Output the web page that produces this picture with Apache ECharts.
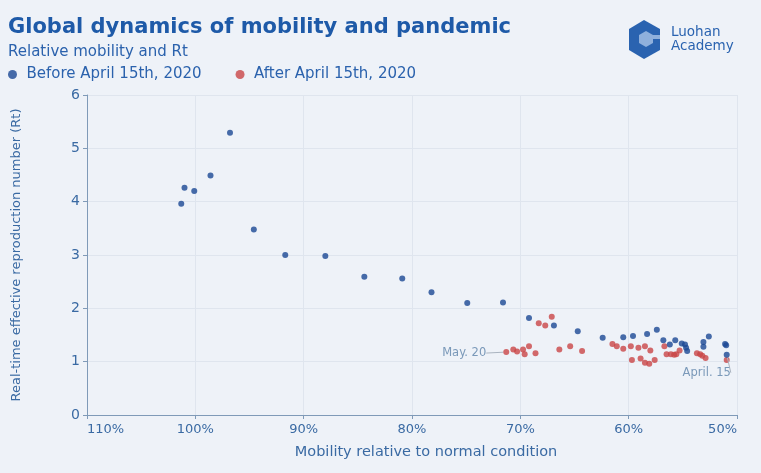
<!DOCTYPE html>
<html>
<head>
<meta charset="utf-8">
<script src="https://cdn.jsdelivr.net/npm/echarts@6/dist/echarts.min.js"></script>
<style>
html,body{margin:0;padding:0;background:#eef2f8;}
#chart{width:761px;height:473px;}
</style>
</head>
<body>
<div id="chart"></div>
<script>
// Mobility (% of normal) and Rt before April 15th, 2020
const mobilityBefore = [96.8, 98.6, 101.0, 100.1, 101.3, 94.6, 91.7, 88.0, 84.4, 80.9, 78.2, 74.9, 71.6, 69.2, 66.9, 64.7, 62.4, 60.5, 59.6, 58.3, 57.4, 56.8, 56.2, 55.7, 55.1, 54.8, 54.7, 54.6, 53.1, 53.1, 52.6, 51.1, 51.0, 50.95];
const rtBefore =       [5.29, 4.49, 4.26, 4.20, 3.96, 3.48, 3.00, 2.98, 2.59, 2.56, 2.30, 2.10, 2.11, 1.82, 1.68, 1.57, 1.45, 1.46, 1.48, 1.52, 1.60, 1.40, 1.32, 1.40, 1.34, 1.32, 1.26, 1.20, 1.37, 1.28, 1.47, 1.33, 1.31, 1.13];
// Mobility and Rt after April 15th, 2020
const mobilityAfter = [71.3, 70.65, 70.3, 69.75, 69.6, 69.2, 68.6, 68.3, 67.7, 67.1, 66.4, 65.4, 64.3, 61.5, 61.1, 60.5, 59.8, 59.7, 59.1, 58.9, 58.5, 58.5, 58.1, 58.0, 57.6, 56.7, 56.5, 56.1, 55.8, 55.6, 55.3, 53.7, 53.4, 53.2, 52.9, 50.95];
const rtAfter =       [1.18, 1.23, 1.19, 1.23, 1.14, 1.29, 1.16, 1.72, 1.68, 1.84, 1.23, 1.29, 1.20, 1.33, 1.29, 1.24, 1.29, 1.03, 1.26, 1.06, 1.29, 0.98, 0.96, 1.21, 1.03, 1.29, 1.14, 1.14, 1.13, 1.14, 1.21, 1.16, 1.14, 1.11, 1.07, 1.03];
const xTicks = [110, 100, 90, 80, 70, 60, 50];
const yTicks = [0, 1, 2, 3, 4, 5, 6];
const seriesNames = ['Before April 15th, 2020', 'After April 15th, 2020'];
const annotations = {before: {index: 33, text: 'April. 15'}, after: {index: 0, text: 'May. 20'}};

const BLUE = '#1a4794', RED = '#c94546';
const labelBlue = '#3a6aa3';
const annColor = '#5d82a9';

function buildData(xs, ys, ann, pos) {
  return xs.map((x, i) => {
    if (i === ann.index) {
      return {
        value: [x, ys[i]],
        label: {show: true, formatter: ann.text, position: pos, color: annColor, fontSize: 11.5, fontFamily: 'DejaVu Sans'},
        labelLine: {show: true, lineStyle: {color: '#aab4c0', width: 1}}
      };
    }
    return [x, ys[i]];
  });
}

const chart = echarts.init(document.getElementById('chart'), null, {renderer: 'canvas'});
chart.setOption({
  animation: false,
  backgroundColor: '#eef2f8',
  textStyle: {fontFamily: 'DejaVu Sans'},
  title: [{
    text: 'Global dynamics of mobility and pandemic',
    left: 3, top: 12,
    textStyle: {color: '#1e5aa8', fontSize: 21, fontWeight: 'bold', fontFamily: 'DejaVu Sans'}
  }, {
    text: 'Relative mobility and Rt',
    left: 3, top: 40,
    textStyle: {color: '#2b62ad', fontSize: 15, fontWeight: 'normal', fontFamily: 'DejaVu Sans'}
  }],
  legend: {
    data: seriesNames,
    left: 3, top: 62,
    icon: 'circle',
    itemWidth: 14, itemHeight: 9,
    itemGap: 34,
    textStyle: {color: '#2b62ad', fontSize: 15, fontFamily: 'DejaVu Sans', padding: [0, 0, 0, 2]}
  },
  grid: {left: 87, right: 24, top: 95, bottom: 58, containLabel: false},
  xAxis: {
    type: 'value', min: 50, max: 110, interval: 10, inverse: true,
    name: 'Mobility relative to normal condition', nameLocation: 'middle', nameGap: 30,
    nameTextStyle: {color: labelBlue, fontSize: 14.5, fontFamily: 'DejaVu Sans', padding: [0, 0, 0, 28]},
    axisLine: {show: true, lineStyle: {color: '#7f9ab8'}},
    axisTick: {show: true, length: 4, lineStyle: {color: '#7f9ab8'}},
    axisLabel: {
      color: labelBlue, fontSize: 13, margin: 8,
      formatter: v => xTicks.includes(v) ? v + '%' : '',
      alignMinLabel: 'right', alignMaxLabel: 'left'
    },
    splitLine: {show: true, lineStyle: {color: '#dfe5ee', width: 1}}
  },
  yAxis: {
    type: 'value', min: 0, max: 6, interval: 1,
    name: 'Real-time effective reproduction number (Rt)', nameLocation: 'middle', nameGap: 64,
    nameTextStyle: {color: labelBlue, fontSize: 13, fontFamily: 'DejaVu Sans'},
    axisLine: {show: true, lineStyle: {color: '#7f9ab8'}},
    axisTick: {show: true, length: 4, lineStyle: {color: '#7f9ab8'}},
    axisLabel: {color: labelBlue, fontSize: 14, margin: 7, formatter: v => yTicks.includes(v) ? String(v) : ''},
    splitLine: {show: true, lineStyle: {color: '#dfe5ee', width: 1}}
  },
  series: [{
    name: seriesNames[0], type: 'scatter', symbolSize: 6,
    itemStyle: {color: BLUE},
    data: buildData(mobilityBefore, rtBefore, annotations.before, 'bottom'),
    labelLayout: p => p.dataIndex === annotations.before.index ? {dx: -20, dy: 4} : {},
    z: 3
  }, {
    name: seriesNames[1], type: 'scatter', symbolSize: 6,
    itemStyle: {color: RED},
    data: buildData(mobilityAfter, rtAfter, annotations.after, 'left'),
    labelLayout: p => p.dataIndex === annotations.after.index ? {dx: -12, dy: 1} : {},
    z: 2
  }],
  graphic: [{
    type: 'polygon', left: 629, top: 20,
    shape: {points: [[15, 0], [31, 9], [31, 30], [15, 39], [0, 30], [0, 9]]},
    style: {fill: '#2a63b0'}
  }, {
    type: 'polygon', left: 639, top: 31,
    shape: {points: [[7, 0], [14, 4], [21, 4], [21, 8], [14, 8], [14, 12], [7, 16], [0, 12], [0, 4]]},
    style: {fill: '#8fb0dc'}
  }, {
    type: 'text', left: 671, top: 25,
    style: {text: 'Luohan', fill: '#2a63b0', font: '13.5px "DejaVu Sans"'}
  }, {
    type: 'text', left: 671, top: 39,
    style: {text: 'Academy', fill: '#2a63b0', font: '13.5px "DejaVu Sans"'}
  }]
});
</script>
</body>
</html>
